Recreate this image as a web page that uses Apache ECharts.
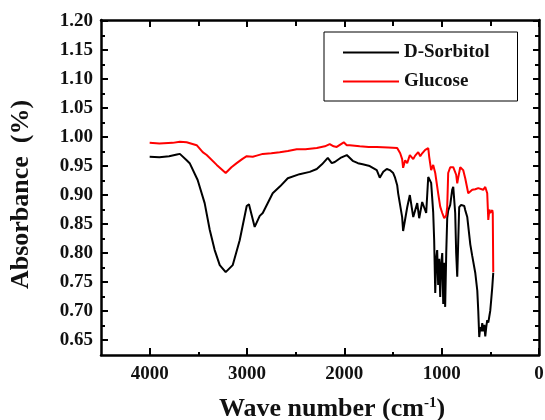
<!DOCTYPE html>
<html><head><meta charset="utf-8">
<script src="https://cdn.jsdelivr.net/npm/echarts@6/dist/echarts.min.js"></script>
<style>html,body{margin:0;padding:0;background:#fff}#c{width:545px;height:420px}</style>
</head><body><div id="c"></div>
<script>
const xMajorTicks = [0, 1000, 2000, 3000, 4000];
const xMinorTicks = [500, 1500, 2500, 3500];
const yMajorTicks = [0.65, 0.70, 0.75, 0.80, 0.85, 0.90, 0.95, 1.00, 1.05, 1.10, 1.15, 1.20];
const yMinorTicks = [0.675, 0.725, 0.775, 0.825, 0.875, 0.925, 0.975, 1.025, 1.075, 1.125, 1.175];

const sorbitolWave = [4000,3900,3800,3720,3690,3620,3589,3507,3435,3383,3332,3280,3219,3147,3075,3003,2980,2921,2869,2838,2736,2660,2581,2460,2355,2283,2230,2170,2129,2098,2040,1975,1914,1860,1811,1739,1667,1636,1600,1564,1533,1498,1481,1457,1447,1406,1396,1354,1327,1292,1251,1231,1200,1159,1138,1108,1087,1077,1066,1056,1046,1036,1025,1015,1005,994,984,974,964,953,943,933,912,892,881,861,851,840,820,800,789,768,758,737,706,686,655,634,624,614,604,593,583,573,562,552,542,532,521,511,501,491,480,470];
const sorbitolAbs = [0.966,0.965,0.967,0.970,0.971,0.960,0.955,0.926,0.886,0.840,0.805,0.779,0.767,0.779,0.822,0.881,0.884,0.845,0.864,0.869,0.903,0.915,0.929,0.936,0.940,0.945,0.953,0.964,0.955,0.957,0.964,0.969,0.959,0.955,0.953,0.950,0.943,0.930,0.940,0.945,0.943,0.938,0.931,0.917,0.903,0.862,0.838,0.879,0.900,0.862,0.886,0.860,0.888,0.869,0.931,0.921,0.870,0.822,0.731,0.790,0.805,0.745,0.790,0.724,0.780,0.800,0.712,0.783,0.707,0.800,0.860,0.873,0.883,0.909,0.914,0.869,0.800,0.759,0.879,0.883,0.886,0.881,0.874,0.862,0.815,0.795,0.766,0.735,0.700,0.655,0.672,0.665,0.679,0.665,0.676,0.656,0.672,0.684,0.680,0.690,0.700,0.719,0.741,0.766];

const glucoseWave = [4000,3900,3764,3690,3620,3517,3455,3414,3311,3219,3160,3106,3050,3003,2941,2900,2838,2750,2664,2580,2489,2400,2283,2200,2150,2110,2078,2006,1975,1944,1842,1750,1667,1550,1457,1426,1406,1396,1375,1354,1327,1292,1272,1241,1220,1200,1169,1138,1128,1108,1087,1066,1036,1015,994,974,953,943,933,912,892,881,861,851,840,830,809,779,758,727,686,655,624,573,552,532,521,510,501,480,475,470];
const glucoseAbs = [0.990,0.989,0.990,0.992,0.991,0.986,0.974,0.969,0.952,0.938,0.948,0.955,0.962,0.967,0.966,0.968,0.971,0.972,0.974,0.976,0.979,0.979,0.981,0.984,0.988,0.984,0.983,0.991,0.986,0.986,0.984,0.983,0.983,0.982,0.981,0.972,0.962,0.947,0.960,0.955,0.969,0.962,0.968,0.974,0.967,0.972,0.978,0.981,0.966,0.943,0.952,0.938,0.903,0.880,0.869,0.860,0.865,0.879,0.938,0.948,0.945,0.948,0.947,0.935,0.920,0.930,0.948,0.943,0.929,0.903,0.909,0.910,0.912,0.909,0.914,0.903,0.857,0.875,0.869,0.874,0.869,0.767];

const FONT = "'Liberation Serif', 'Times New Roman', serif";
const xMin = 0, xMax = 4500, yMin = 0.624, yMax = 1.202;

function xAx(pos, ticks, len, main) {
  return {
    type: 'value', position: pos, min: xMin, max: xMax, inverse: true,
    axisLine: { show: main, onZero: false, lineStyle: { color: '#000', width: 2.5 } },
    axisTick: { show: true, inside: true, length: len, customValues: ticks, lineStyle: { color: '#000', width: 2 } },
    axisLabel: main && pos === 'bottom' ? { show: true, customValues: xMajorTicks, margin: 10, color: '#111', fontFamily: FONT, fontWeight: 'bold', fontSize: 19, formatter: v => String(v) } : { show: false },
    splitLine: { show: false },
    name: main && pos === 'bottom' ? '{a|Wave number (cm}{s|-1}{a|)}' : '',
    nameLocation: 'middle', nameGap: 41,
    nameTextStyle: { padding: [0, 0, 0, 24], rich: {
      a: { fontFamily: FONT, fontWeight: 'bold', fontSize: 26, color: '#111' },
      s: { fontFamily: FONT, fontWeight: 'bold', fontSize: 15, color: '#111', verticalAlign: 'top' } } }
  };
}
function yAx(pos, ticks, len, main) {
  return {
    type: 'value', position: pos, min: yMin, max: yMax,
    axisLine: { show: main, onZero: false, lineStyle: { color: '#000', width: 2.5 } },
    axisTick: { show: true, inside: true, length: len, customValues: ticks, lineStyle: { color: '#000', width: 2 } },
    axisLabel: main && pos === 'left' ? { show: true, customValues: yMajorTicks, margin: 8, color: '#111', fontFamily: FONT, fontWeight: 'bold', fontSize: 19, formatter: v => v.toFixed(2) } : { show: false },
    splitLine: { show: false },
    name: main && pos === 'left' ? 'Absorbance  (%)' : '',
    nameLocation: 'middle', nameGap: 67, nameRotate: 90,
    nameTextStyle: { fontFamily: FONT, fontWeight: 'bold', fontSize: 26, color: '#111', padding: [0, 14, 0, 0] }
  };
}

const chart = echarts.init(document.getElementById('c'), null, { renderer: 'canvas' });
chart.setOption({
  animation: false,
  backgroundColor: '#fff',
  grid: { left: 101, right: 6, top: 20, bottom: 65, containLabel: false, outerBoundsMode: 'none' },
  legend: {
    orient: 'vertical', left: 324, top: 32,
    data: [{ name: 'D-Sorbitol', icon: 'rect' }, { name: 'Glucose', icon: 'rect' }],
    borderColor: '#000', borderWidth: 1, borderRadius: 0,
    padding: [11, 28, 10, 19], itemWidth: 56, itemHeight: 2, itemGap: 10,
    textStyle: { fontFamily: FONT, fontWeight: 'bold', fontSize: 19, color: '#111', lineHeight: 16 }
  },
  xAxis: [
    xAx('bottom', xMajorTicks, 7, true),
    xAx('bottom', xMinorTicks, 3, false),
    xAx('top', xMajorTicks, 7, true),
    xAx('top', xMinorTicks, 6, false)
  ],
  yAxis: [
    yAx('left', yMajorTicks, 7, true),
    yAx('left', yMinorTicks, 4, false),
    yAx('right', yMajorTicks, 6, true),
    yAx('right', yMinorTicks, 4, false)
  ],
  series: [
    { name: 'D-Sorbitol', type: 'line', xAxisIndex: 0, yAxisIndex: 0, symbol: 'none', showSymbol: false,
      lineStyle: { color: '#000', width: 2 }, itemStyle: { color: '#000' },
      data: sorbitolWave.map((w, i) => [w, sorbitolAbs[i]]) },
    { name: 'Glucose', type: 'line', xAxisIndex: 0, yAxisIndex: 0, symbol: 'none', showSymbol: false,
      lineStyle: { color: '#ff0000', width: 2 }, itemStyle: { color: '#ff0000' },
      data: glucoseWave.map((w, i) => [w, glucoseAbs[i]]) }
  ]
});
</script></body></html>
